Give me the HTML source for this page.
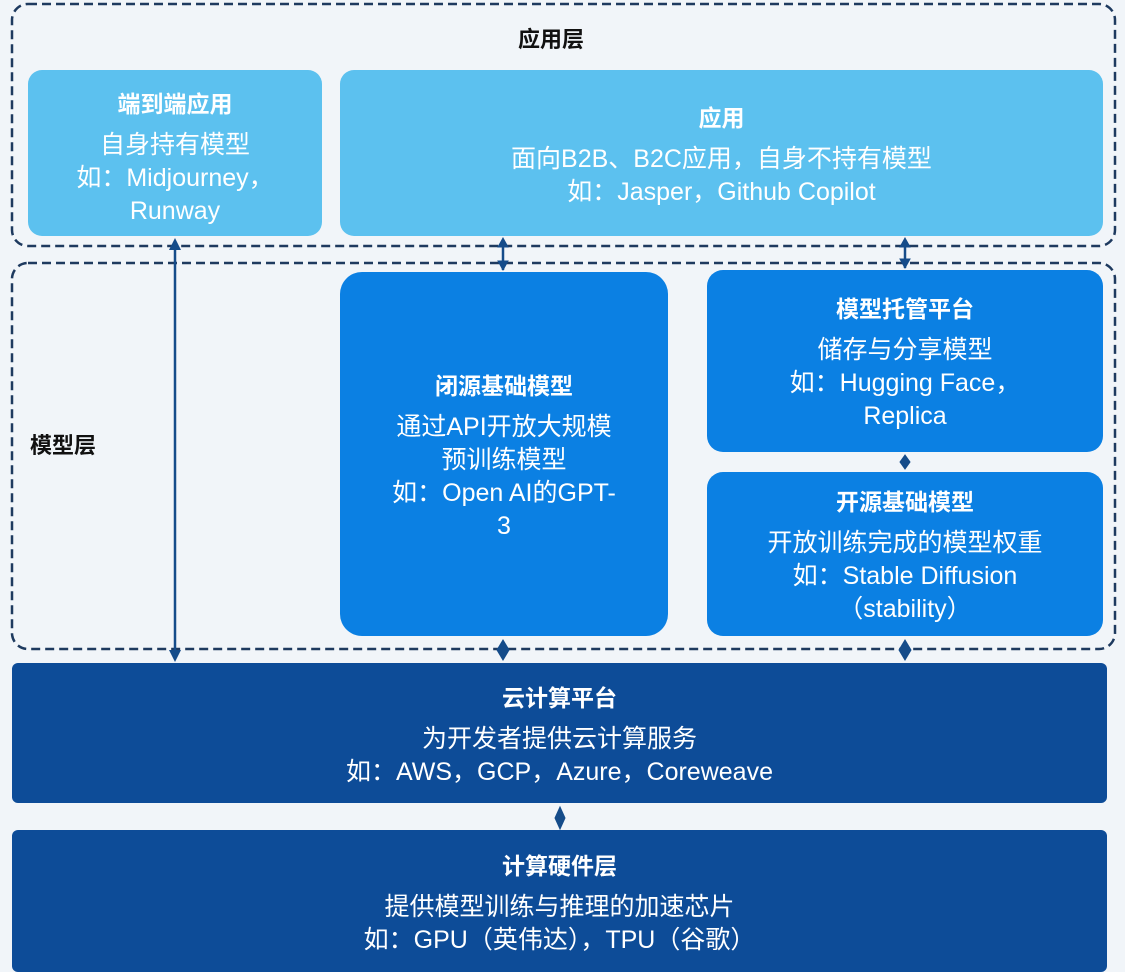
<!DOCTYPE html>
<html><head><meta charset="utf-8"><style>
html,body{margin:0;padding:0}
body{width:1125px;height:972px;background:#f1f5f9;position:relative;overflow:hidden;font-family:"Liberation Sans","Noto Sans CJK SC",sans-serif;}
.b{position:absolute;display:flex;flex-direction:column;justify-content:center;align-items:center;text-align:center;color:#fff;font-size:25px;line-height:33px;}
.b b{font-size:23px;line-height:40px;font-weight:bold;margin-bottom:5px}
.l{background:#5cc1ef;border-radius:14px}
.m{background:#0b80e3;border-radius:22px}
.d{background:#0d4c98;border-radius:6px}
.t{position:absolute;font-weight:bold;font-size:22px;color:#111}
svg{position:absolute;left:0;top:0}
</style></head><body>
<svg width="1125" height="972">
<rect x="12" y="4" width="1103" height="242" rx="16" fill="none" stroke="#1e3a5f" stroke-width="2.5" stroke-dasharray="9,5"/>
<rect x="12" y="263" width="1103" height="386" rx="16" fill="none" stroke="#1e3a5f" stroke-width="2.5" stroke-dasharray="9,5"/>
</svg>
<div class="t" style="left:518px;top:22px">应用层</div>
<div class="t" style="left:30px;top:428px">模型层</div>
<div class="b l" style="left:28px;top:70px;width:294px;height:166px;justify-content:flex-start;padding-top:0"><div style="height:14px"></div><b>端到端应用</b>自身持有模型<br>如：Midjourney，<br>Runway</div>
<div class="b l" style="left:340px;top:70px;width:763px;height:166px"><b>应用</b>面向B2B、B2C应用，自身不持有模型<br>如：Jasper，Github Copilot</div>
<div class="b m" style="left:340px;top:272px;width:328px;height:364px"><b>闭源基础模型</b>通过API开放大规模<br>预训练模型<br>如：Open AI的GPT-<br>3</div>
<div class="b m" style="left:707px;top:270px;width:396px;height:182px;border-radius:16px"><b>模型托管平台</b>储存与分享模型<br>如：Hugging Face，<br>Replica</div>
<div class="b m" style="left:707px;top:472px;width:396px;height:164px;border-radius:16px"><b>开源基础模型</b>开放训练完成的模型权重<br>如：Stable Diffusion<br>（stability）</div>
<div class="b d" style="left:12px;top:663px;width:1095px;height:140px"><b>云计算平台</b>为开发者提供云计算服务<br>如：AWS，GCP，Azure，Coreweave</div>
<div class="b d" style="left:12px;top:830px;width:1095px;height:142px"><b>计算硬件层</b>提供模型训练与推理的加速芯片<br>如：GPU（英伟达），TPU（谷歌）</div>
<svg width="1125" height="972" fill="#154c8a" stroke="#154c8a">
<line x1="175" y1="245" x2="175" y2="655" stroke-width="2.5"/>
<polygon points="175,238 169,250 181,250" stroke="none"/>
<polygon points="175,662 169,650 181,650" stroke="none"/>
<line x1="503" y1="240" x2="503" y2="270" stroke-width="2.5"/>
<polygon points="503,238 498,247 508,247"/><polygon points="503,270 498,261 508,261"/>
<line x1="905" y1="240" x2="905" y2="268" stroke-width="2.5"/>
<polygon points="905,238 900,247 910,247"/><polygon points="905,268 900,259 910,259"/>
<polygon points="905,455 900,462 905,469 910,462"/>
<polygon points="503,640 497,650 503,660 509,650"/>
<polygon points="905,640 899,650 905,660 911,650"/>
<polygon points="560,807 555,818 560,829 565,818"/>
</svg>
</body></html>
